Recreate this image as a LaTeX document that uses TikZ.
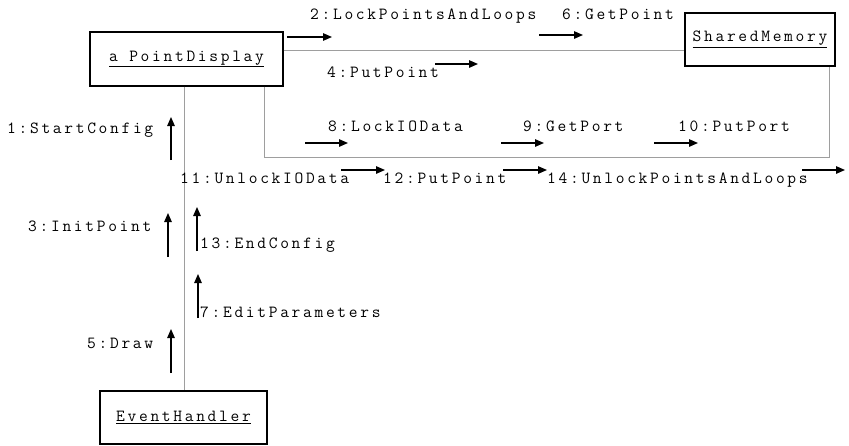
\documentclass[tikz,border=0pt]{standalone}
\usepackage{fontspec}
\newfontfamily\msgfont[LetterSpace=15.8]{Latin Modern Mono}
\usetikzlibrary{arrows.meta}
\tikzset{
  objbox/.style={draw=black, line width=1.3pt, inner sep=0pt, font=\msgfont\fontsize{17}{19}\selectfont},
  link/.style={draw=black!38, line width=1pt},
  msg/.style={draw=black, line width=1.3pt, -{Triangle[length=9pt,width=7.5pt]}},
  lbl/.style={anchor=base west, inner sep=0pt, font=\msgfont\fontsize{17}{19}\selectfont},
}
\begin{document}
\begin{tikzpicture}[x=1pt,y=-1pt]
\useasboundingbox (0,0) rectangle (849,445);

% objects
\node[objbox, minimum width=193pt, minimum height=54pt] (pd) at (186.5,59) {\underline{a PointDisplay}};
\node[objbox, minimum width=150pt, minimum height=53pt] (sm) at (760,39.5) {\underline{SharedMemory}};
\node[objbox, minimum width=167pt, minimum height=53pt] (eh) at (183.5,417.5) {\underline{EventHandler}};

% links between objects
\coordinate (upper) at (0,50);
\coordinate (lowx) at (264,0);
\coordinate (lowy) at (0,157);
\coordinate (smx) at (829,0);
\coordinate (vx) at (184,0);
\draw[link] (pd.east |- upper) -- (sm.west |- upper);
\draw[link] (pd.south -| lowx) -- (lowx |- lowy) -- (smx |- lowy) -- (sm.south -| smx);
\draw[link] (pd.south -| vx) -- (eh.north -| vx);

% messages along the upper link
\node[lbl] (m2) at (310,19) {2:LockPointsAndLoops};
\node[lbl] (m6) at (562,19) {6:GetPoint};
\node[lbl] (m4) at (327,77) {4:PutPoint};
\draw[msg] (287,37) -- (332,37);
\draw[msg] (539,35) -- (583,35);
\draw[msg] (435,64) -- (478,64);

% messages along the lower link
\node[lbl] (m8) at (328,131) {8:LockIOData};
\node[lbl] (m9) at (523,131) {9:GetPort};
\node[lbl] (m10) at (678,131) {10:PutPort};
\draw[msg] (305,143) -- (348,143);
\draw[msg] (501,143) -- (544,143);
\draw[msg] (654,143) -- (698,143);

\node[lbl] (m11) at (180,183) {11:UnlockIOData};
\node[lbl] (m12) at (383,183) {12:PutPoint};
\node[lbl] (m14) at (547,183) {14:UnlockPointsAndLoops};
\draw[msg] (341,170) -- (385,170);
\draw[msg] (503,170) -- (547,170);
\draw[msg] (802,170) -- (845,170);

% messages along the vertical link
\node[lbl] (m1) at (7,133) {1:StartConfig};
\node[lbl] (m3) at (28,231) {3:InitPoint};
\node[lbl] (m13) at (200,248) {13:EndConfig};
\node[lbl] (m7) at (200,317) {7:EditParameters};
\node[lbl] (m5) at (87,348) {5:Draw};
\draw[msg] (171,160) -- (171,117);
\draw[msg] (168,257) -- (168,213);
\draw[msg] (197,251) -- (197,207);
\draw[msg] (198,318) -- (198,274);
\draw[msg] (171,373) -- (171,329);
\end{tikzpicture}
\end{document}
